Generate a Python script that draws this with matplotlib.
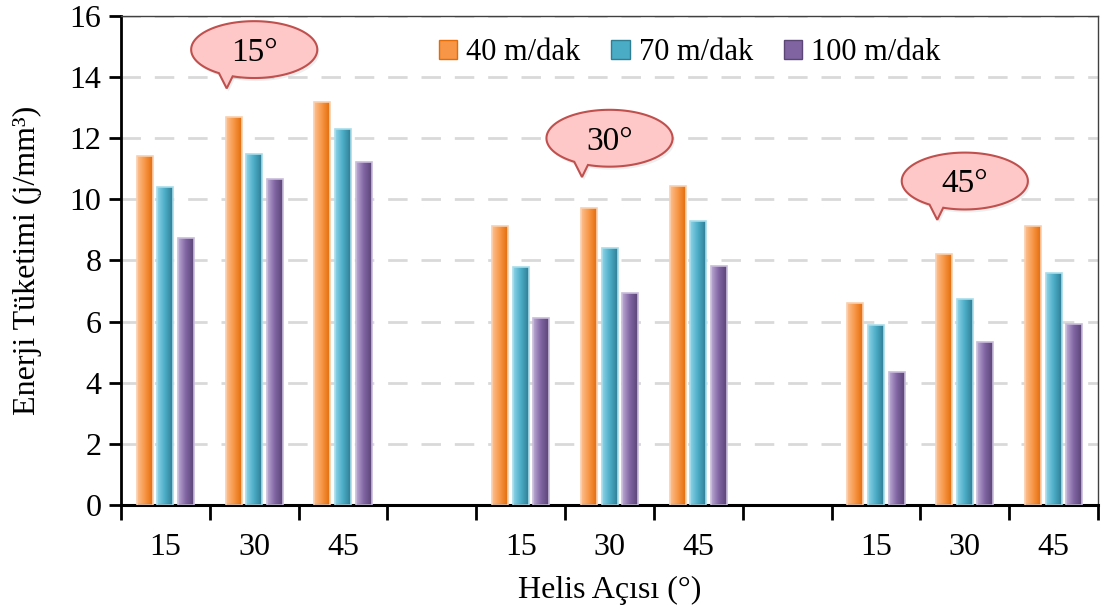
import numpy as np
import matplotlib
matplotlib.use("Agg")
import matplotlib.pyplot as plt
from matplotlib.colors import LinearSegmentedColormap
from matplotlib.patches import Patch, PathPatch
from matplotlib.path import Path

plt.rcParams['font.family'] = ['Liberation Serif', 'DejaVu Serif']

# helix angle groups (cutting-angle callouts) and the tick labels inside each group
group_names = ['15°', '30°', '45°']
helix_labels = ['15', '30', '45']
speeds = ['40 m/dak', '70 m/dak', '100 m/dak']

# energy consumption (j/mm3), one list per cutting speed, 9 bars each
e_40 = [11.42, 12.69, 13.20, 9.14, 9.71, 10.43, 6.60, 8.20, 9.13]
e_70 = [10.42, 11.50, 12.31, 7.80, 8.42, 9.30, 5.89, 6.73, 7.58]
e_100 = [8.75, 10.66, 11.23, 6.13, 6.95, 7.82, 4.34, 5.33, 5.92]

# callout heights above each group
bubble_y = [14.9, 12.0, 10.6]

# bar gradients: light edge -> base -> dark edge
palettes = [
    ['#FCC08F', '#F79646', '#E36C0A'],
    ['#8DD3E6', '#4BACC6', '#2E7E94'],
    ['#BBA9D2', '#8064A2', '#5B4677'],
]
edge_cols = ['#FAD0AE', '#A8DDEB', '#C9BCDC']

fig = plt.figure(figsize=(11.03, 6.12), dpi=100)
ax = fig.add_axes([0.1097, 0.1748, 0.8858, 0.7991])

# slots: 3 per group plus an empty slot between groups
pos = []
for g in range(3):
    pos += [g * 4 + k for k in range(3)]
pos = np.array(pos, dtype=float)

width = 0.18
step = 0.232
series = [e_40, e_70, e_100]

for s, vals in enumerate(series):
    bars = ax.bar(pos + (s - 1) * step, vals, width, color='none',
                  edgecolor=edge_cols[s], linewidth=1.2, zorder=3)
    cmap = LinearSegmentedColormap.from_list('g%d' % s, palettes[s])
    grad = np.linspace(0, 1, 64).reshape(1, -1)
    for b in bars:
        x0, y0 = b.get_x(), b.get_y()
        im = ax.imshow(grad, cmap=cmap, aspect='auto', zorder=2,
                       extent=(x0, x0 + b.get_width(), y0, y0 + b.get_height()),
                       interpolation='bilinear')
        im.set_clip_path(b)

# imshow resets limits
ax.set_xlim(-0.5, 10.5)
ax.set_ylim(0, 16)

# dashed grid
for yv in range(2, 17, 2):
    ax.axhline(yv, color='#D9D9D9', lw=2, dashes=(7, 5), zorder=1)

# axes styling
ax.spines['left'].set_linewidth(2)
ax.spines['bottom'].set_linewidth(2.2)
for sp in ('top', 'right'):
    ax.spines[sp].set_linewidth(1)
    ax.spines[sp].set_color('#404040')

ax.set_yticks(range(0, 17, 2))
ax.tick_params(axis='y', direction='out', length=9, width=2, labelsize=23, pad=5)

ax.set_xticks(np.arange(11))
xlabels = []
for g in range(3):
    xlabels += helix_labels + ([''] if g < 2 else [])
ax.set_xticklabels(xlabels)
ax.set_xticks(np.arange(-0.5, 11, 1), minor=True)
ax.tick_params(axis='x', which='major', length=0, labelsize=23, pad=20)
ax.tick_params(axis='x', which='minor', direction='out', length=11, width=2)

ax.set_xlabel('Helis Açısı (°)', fontsize=23, labelpad=10)
ax.set_ylabel('Enerji Tüketimi (j/mm³)', fontsize=23, labelpad=20)

# legend
handles = [Patch(facecolor=palettes[i][1], edgecolor=palettes[i][2], lw=1)
           for i in range(3)]
ax.legend(handles, speeds, loc='center', bbox_to_anchor=(0.582, 0.925), ncol=3,
          frameon=False, fontsize=22, handlelength=0.6, handleheight=0.6,
          handletextpad=0.3, columnspacing=1.0)


def bubble(cx, cy, label):
    # speech bubble in data units: ellipse with a tail pointing down-left
    a, b = 0.71, 0.93
    t0, t1 = np.deg2rad(236), np.deg2rad(250)
    tip = (cx - 0.31, cy - 1.27)
    th = np.linspace(t1, t0 + 2 * np.pi, 200)
    verts = [(cx + a * np.cos(t), cy + b * np.sin(t)) for t in th]
    verts.append(tip)
    verts.append(verts[0])
    codes = [Path.MOVETO] + [Path.LINETO] * (len(verts) - 2) + [Path.CLOSEPOLY]
    path = Path(verts, codes)
    shadow = PathPatch(path, facecolor='#C8C8C8', edgecolor='none', alpha=0.3,
                       zorder=5, clip_on=False)
    shadow.set_transform(ax.transData + matplotlib.transforms.ScaledTranslation(
        2 / 100, -3 / 100, fig.dpi_scale_trans))
    ax.add_patch(shadow)
    ax.add_patch(PathPatch(path, facecolor='#FFC8C8', edgecolor='#C0504D',
                           lw=1.5, zorder=6, clip_on=False))
    ax.text(cx, cy - 0.1, label, ha='center', va='center', fontsize=24, zorder=7)


for g in range(3):
    bubble(g * 4 + 1, bubble_y[g], group_names[g])

fig.savefig('out.png', dpi=100)
